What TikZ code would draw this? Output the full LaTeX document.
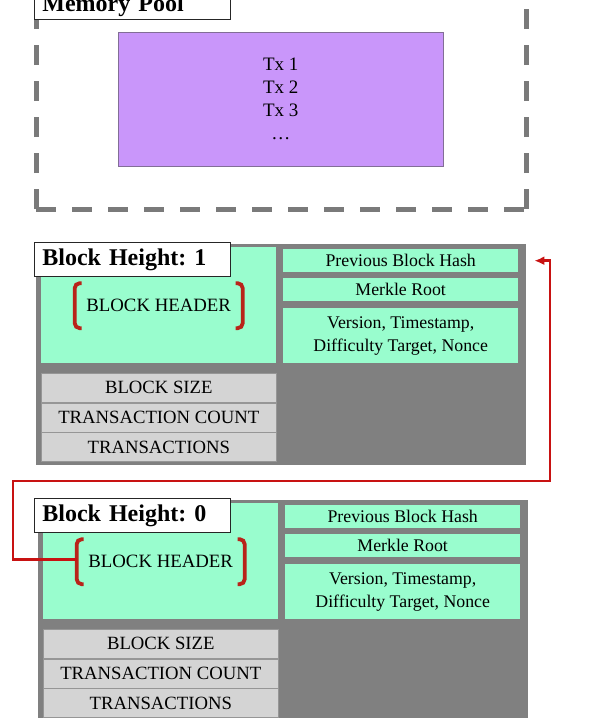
\documentclass[tikz,border=0pt]{standalone}
\usepackage{fontspec}
\setmainfont{Liberation Serif}
\usetikzlibrary{positioning, calc, arrows.meta}

\definecolor{poolpurple}{RGB}{201,150,250}
\definecolor{poolborder}{RGB}{130,110,150}
\definecolor{hdrgreen}{RGB}{153,253,206}
\definecolor{blockgray}{RGB}{128,128,128}
\definecolor{dashgray}{RGB}{122,122,122}
\definecolor{rowgray}{RGB}{212,212,212}
\definecolor{rowborder}{RGB}{150,150,150}
\definecolor{linkred}{RGB}{200,18,18}
\definecolor{brackred}{RGB}{185,35,25}

\begin{document}
\begin{tikzpicture}[x=1pt, y=-1pt,
    labelbox/.style={draw=black!85, fill=white, line width=0.8pt, anchor=north west,
        font=\fontsize{24}{27}\selectfont\bfseries, text width=180pt, align=left,
        inner xsep=8pt, minimum height=34pt},
    hdrbox/.style={fill=hdrgreen, anchor=north west, inner sep=0pt},
    fieldbox/.style={fill=hdrgreen, anchor=north west, inner sep=0pt, minimum width=235pt,
        font=\fontsize{17.8}{23}\selectfont, align=center},
    rowbox/.style={fill=rowgray, draw=rowborder, line width=0.6pt, anchor=north west,
        inner sep=0pt, minimum width=235pt, minimum height=29pt,
        font=\fontsize{18.7}{20}\selectfont},
    bracket/.style={draw=brackred, line width=3.8pt, rounded corners=5pt},
    pooldash/.style={dashgray, line width=5pt, dash pattern=on 20pt off 16pt},
    link/.style={draw=linkred, line width=2.8pt, -{Latex[length=10pt,width=9pt]}}]
    \useasboundingbox (0,0) rectangle (595,718);

    % Memory pool
    \draw[pooldash] (36,209) -- (36,-20);
    \draw[pooldash] (36,209) -- (526,209);
    \draw[pooldash] (526,209) -- (526,-20);
    \node[labelbox, anchor=south west, minimum height=0pt, inner ysep=3pt] (pool) at (34,20) {Memory Pool};
    \node[fill=poolpurple, draw=poolborder, line width=0.6pt, anchor=north west,
        minimum width=325pt, minimum height=134pt, align=center,
        font=\fontsize{19}{23}\selectfont] (txs) at (118,32) {Tx 1\\Tx 2\\Tx 3\\\dots};

    % Blocks
    \foreach \h/\dx/\dy in {1/0/0, 0/2/256} {
        \fill[blockgray] ({36+\dx},{244+\dy}) rectangle ++(490,221);
        \node[hdrbox, minimum width=235pt, minimum height=116pt,
            font=\fontsize{18.8}{20}\selectfont] (hdr\h) at ({41+\dx},{247+\dy}) {BLOCK HEADER};
        \draw[bracket] ($(hdr\h.center)+(-77,-22)$) -- ++(-7,0) -- ++(0,45) -- ++(7,0);
        \draw[bracket] ($(hdr\h.center)+(77,-22)$) -- ++(7,0) -- ++(0,45) -- ++(-7,0);
        \coordinate (brk\h) at ($(hdr\h.center)+(-84,-2)$);
        \node[fieldbox, minimum height=23pt] (prev\h) at ({283+\dx},{249+\dy}) {Previous Block Hash};
        \node[fieldbox, minimum height=23pt] (root\h) at ({283+\dx},{278+\dy}) {Merkle Root};
        \node[fieldbox, minimum height=55pt] (meta\h) at ({283+\dx},{308+\dy})
            {Version, Timestamp,\\Difficulty Target, Nonce};
        \node[rowbox] (size\h) at ({41+\dx},{373+\dy}) {BLOCK SIZE};
        \node[rowbox, below=0pt of size\h] (count\h) {TRANSACTION COUNT};
        \node[rowbox, below=0pt of count\h] (txns\h) {TRANSACTIONS};
        \node[labelbox] (lbl\h) at (34,{242+\dy}) {Block Height:\ \h};
    }

    % Link to previous block
    \coordinate (bendL) at (13,481);
    \coordinate (bendR) at (550,481);
    \draw[link, shorten >=16pt] (brk0) -| (bendL) -- (bendR) |- (prev1.east);
\end{tikzpicture}
\end{document}
